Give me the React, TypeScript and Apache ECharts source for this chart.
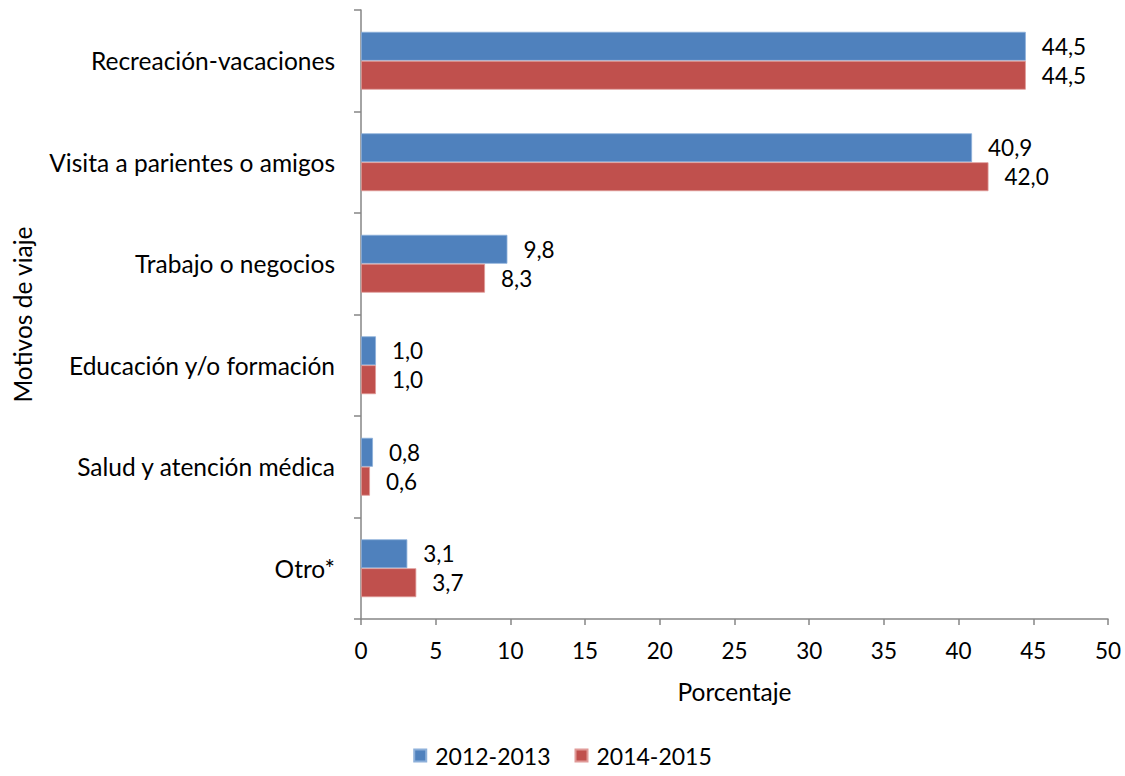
import React, { useEffect, useRef } from "react";
import * as echarts from "echarts";

const categories = [
  "Recreación-vacaciones",
  "Visita a parientes o amigos",
  "Trabajo o negocios",
  "Educación y/o formación",
  "Salud y atención médica",
  "Otro*",
];
const series2012 = [44.5, 40.9, 9.8, 1.0, 0.8, 3.1];
const series2014 = [44.5, 42.0, 8.3, 1.0, 0.6, 3.7];
const seriesNames = ["2012-2013", "2014-2015"];
const colors = ["#4F81BD", "#C0504D"];

const FONT = "Lato, 'Open Sans', sans-serif";

export default function App() {
  const ref = useRef<HTMLDivElement>(null);
  useEffect(() => {
    if (!ref.current) return;
    const chart = echarts.init(ref.current, null, { renderer: "svg" });
    const fmt = (p: any) => Number(p.value).toFixed(1).replace(".", ",");
    const label = {
      show: true,
      position: "right" as const,
      distance: 16,
      formatter: fmt,
      color: "#000",
      fontSize: 22.5,
      fontFamily: FONT,
    };
    chart.setOption({
      animation: false,
      textStyle: { fontFamily: FONT },
      grid: { left: 361, right: 17, top: 10, bottom: 157, containLabel: false },
      legend: {
        bottom: 4,
        left: "center",
        itemWidth: 12,
        itemHeight: 12,
        itemGap: 24,
        icon: "rect",
        textStyle: { fontSize: 23, color: "#000", fontFamily: FONT, padding: [0, 0, 0, 4] },
        data: seriesNames,
      },
      xAxis: {
        type: "value",
        min: 0,
        max: 50,
        interval: 5,
        name: "Porcentaje",
        nameLocation: "middle",
        nameGap: 60,
        nameTextStyle: { fontSize: 24.5, color: "#000", fontFamily: FONT },
        axisLine: { show: true, lineStyle: { color: "#868686", width: 1.5 } },
        axisTick: { show: true, length: 6, lineStyle: { color: "#868686", width: 1.5 } },
        axisLabel: { fontSize: 22.5, color: "#000", margin: 20, fontFamily: FONT },
        splitLine: { show: false },
      },
      yAxis: {
        type: "category",
        inverse: true,
        data: categories,
        name: "Motivos de viaje",
        nameLocation: "middle",
        nameGap: 326,
        nameRotate: 90,
        nameTextStyle: { fontSize: 24.5, color: "#000", fontFamily: FONT },
        axisLine: { show: true, lineStyle: { color: "#868686", width: 1.5 } },
        axisTick: { show: true, length: 7, lineStyle: { color: "#868686", width: 1.5 } },
        axisLabel: { fontSize: 24.5, color: "#000", margin: 26, fontFamily: FONT },
      },
      series: [
        {
          name: seriesNames[0],
          type: "bar",
          data: series2012,
          barGap: "0%",
          barCategoryGap: "43%",
          itemStyle: { color: colors[0], borderColor: "#8DB0DA", borderWidth: 0.8 },
          label,
        },
        {
          name: seriesNames[1],
          type: "bar",
          data: series2014,
          barGap: "0%",
          barCategoryGap: "43%",
          itemStyle: { color: colors[1], borderColor: "#E09A98", borderWidth: 0.8 },
          label,
        },
      ],
    });
    return () => chart.dispose();
  }, []);
  return (
    <div
      ref={ref}
      style={{ position: "fixed", left: 0, top: 0, width: 1125, height: 776, background: "#fff" }}
    />
  );
}
